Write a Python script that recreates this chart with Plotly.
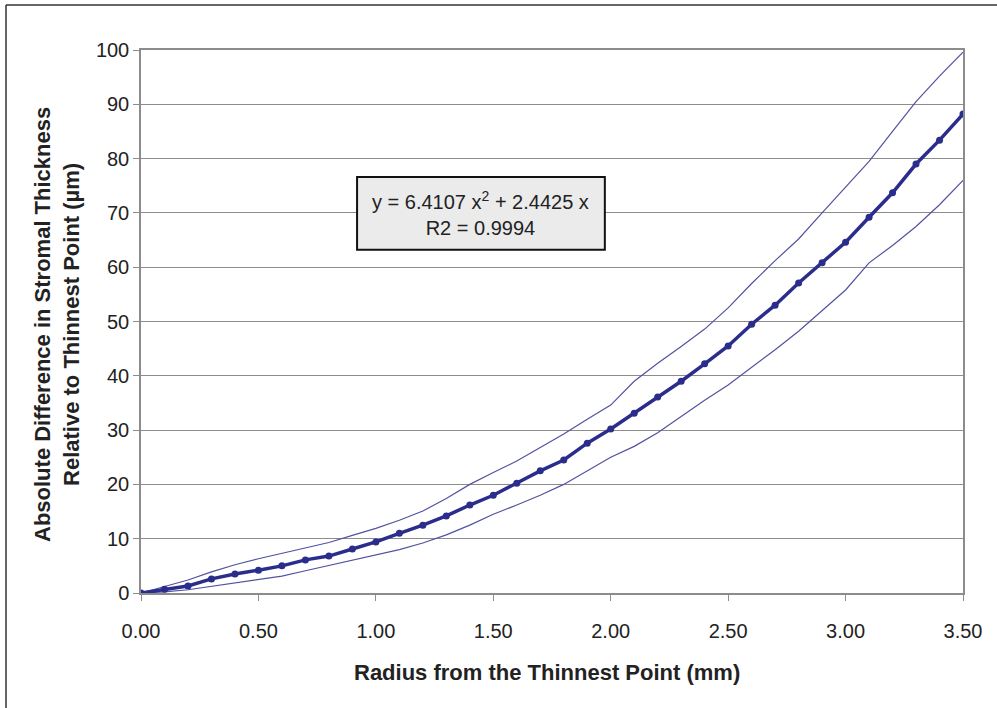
import plotly.graph_objects as go

radius = [0.0, 0.1, 0.2, 0.3, 0.4, 0.5, 0.6, 0.7, 0.8, 0.9, 1.0, 1.1, 1.2, 1.3, 1.4, 1.5, 1.6, 1.7,
          1.8, 1.9, 2.0, 2.1, 2.2, 2.3, 2.4, 2.5, 2.6, 2.7, 2.8, 2.9, 3.0, 3.1, 3.2, 3.3, 3.4, 3.5]
mean_diff = [0.0, 0.7, 1.3, 2.6, 3.5, 4.2, 5.0, 6.1, 6.8, 8.1, 9.4, 11.0, 12.5, 14.2, 16.2, 18.0, 20.2, 22.5,
             24.5, 27.6, 30.2, 33.1, 36.1, 39.0, 42.2, 45.5, 49.5, 53.0, 57.1, 60.8, 64.6, 69.2, 73.7, 79.0, 83.4, 88.2]
upper_diff = [0.0, 1.2, 2.4, 3.9, 5.2, 6.3, 7.3, 8.3, 9.3, 10.6, 11.9, 13.4, 15.1, 17.4, 20.0, 22.2, 24.3, 26.8,
              29.3, 32.0, 34.6, 39.0, 42.3, 45.4, 48.6, 52.5, 57.0, 61.2, 65.2, 70.0, 74.8, 79.5, 85.0, 90.5, 95.2, 99.6]
lower_diff = [0.0, 0.2, 0.6, 1.2, 1.8, 2.4, 3.1, 4.1, 5.1, 6.1, 7.0, 8.0, 9.2, 10.7, 12.5, 14.5, 16.2, 18.0,
              20.0, 22.5, 25.0, 27.0, 29.5, 32.5, 35.5, 38.3, 41.5, 44.8, 48.2, 52.0, 55.8, 60.8, 64.0, 67.5, 71.5, 76.0]

x_ticks = [0.0, 0.5, 1.0, 1.5, 2.0, 2.5, 3.0, 3.5]
x_tick_labels = ["0.00", "0.50", "1.00", "1.50", "2.00", "2.50", "3.00", "3.50"]
y_ticks = [0, 10, 20, 30, 40, 50, 60, 70, 80, 90, 100]

x_title = "Radius from the Thinnest Point (mm)"
y_title = "Absolute Difference in Stromal Thickness<br>Relative to Thinnest Point (µm)"
equation_text = "y = 6.4107 x<sup>2</sup> + 2.4425 x<br>R2 = 0.9994"

font_family = "Liberation Sans, Arial, sans-serif"
navy = "#2b2d8c"
thin = "#5252a0"
grid = "#8c8c8c"

fig = go.Figure()
fig.add_trace(go.Scatter(x=radius, y=upper_diff, mode="lines",
                         line=dict(color=thin, width=1.2), showlegend=False, hoverinfo="skip"))
fig.add_trace(go.Scatter(x=radius, y=lower_diff, mode="lines",
                         line=dict(color=thin, width=1.2), showlegend=False, hoverinfo="skip"))
fig.add_trace(go.Scatter(x=radius, y=mean_diff, mode="lines+markers",
                         line=dict(color=navy, width=3.5),
                         marker=dict(color=navy, size=7, symbol="circle"),
                         showlegend=False))

# equation box
fig.add_shape(type="rect", xref="x", yref="y", x0=0.92, x1=1.975, y0=63.2, y1=76.6,
              fillcolor="#ebebeb", line=dict(color="#111111", width=2), layer="above")
fig.add_annotation(x=1.447, y=69.9, xref="x", yref="y", text=equation_text, showarrow=False,
                   font=dict(family=font_family, size=20, color="#222222"), align="center")

# axis titles
fig.add_annotation(x=(547 - 141) / 822, y=(593 - 672) / 543, xref="paper", yref="paper",
                   text="<b>" + x_title + "</b>", showarrow=False, xanchor="center", yanchor="middle",
                   font=dict(family=font_family, size=22, color="#222222"))
fig.add_annotation(x=(57 - 141) / 822, y=(593 - 325) / 543, xref="paper", yref="paper",
                   text="<b>" + y_title + "</b>", showarrow=False, textangle=-90,
                   xanchor="center", yanchor="middle", align="center",
                   font=dict(family=font_family, size=22, color="#222222"))

# outer frame (top and left edges visible)
fx = (6 - 141) / 822
fy = (593 - 5) / 543
fig.add_shape(type="line", xref="paper", yref="paper", x0=fx, x1=1.1, y0=fy, y1=fy,
              line=dict(color="#333333", width=1.5))
fig.add_shape(type="line", xref="paper", yref="paper", x0=fx, x1=fx, y0=-0.25, y1=fy,
              line=dict(color="#333333", width=1.5))

fig.update_layout(
    width=997, height=708,
    margin=dict(l=141, r=34, t=50, b=115),
    paper_bgcolor="white", plot_bgcolor="white",
    font=dict(family=font_family, size=20, color="#222222"),
    xaxis=dict(range=[0, 3.5], tickvals=x_ticks, ticktext=x_tick_labels,
               showgrid=False, zeroline=False, showline=True, linecolor=grid, linewidth=1.5,
               mirror=True, ticks="outside", ticklen=6, tickcolor=grid,
               ticklabelstandoff=13,
               tickfont=dict(size=20, color="#222222")),
    yaxis=dict(range=[0, 100], tickvals=y_ticks,
               showgrid=True, gridcolor=grid, gridwidth=1.2, zeroline=False,
               showline=True, linecolor=grid, linewidth=1.5, mirror=True,
               ticks="outside", ticklen=6, tickcolor=grid,
               tickfont=dict(size=20, color="#222222")),
)

fig.write_html("out.html", config={"displayModeBar": False},
               post_script="document.body.style.margin='0';document.body.style.overflow='hidden';")
